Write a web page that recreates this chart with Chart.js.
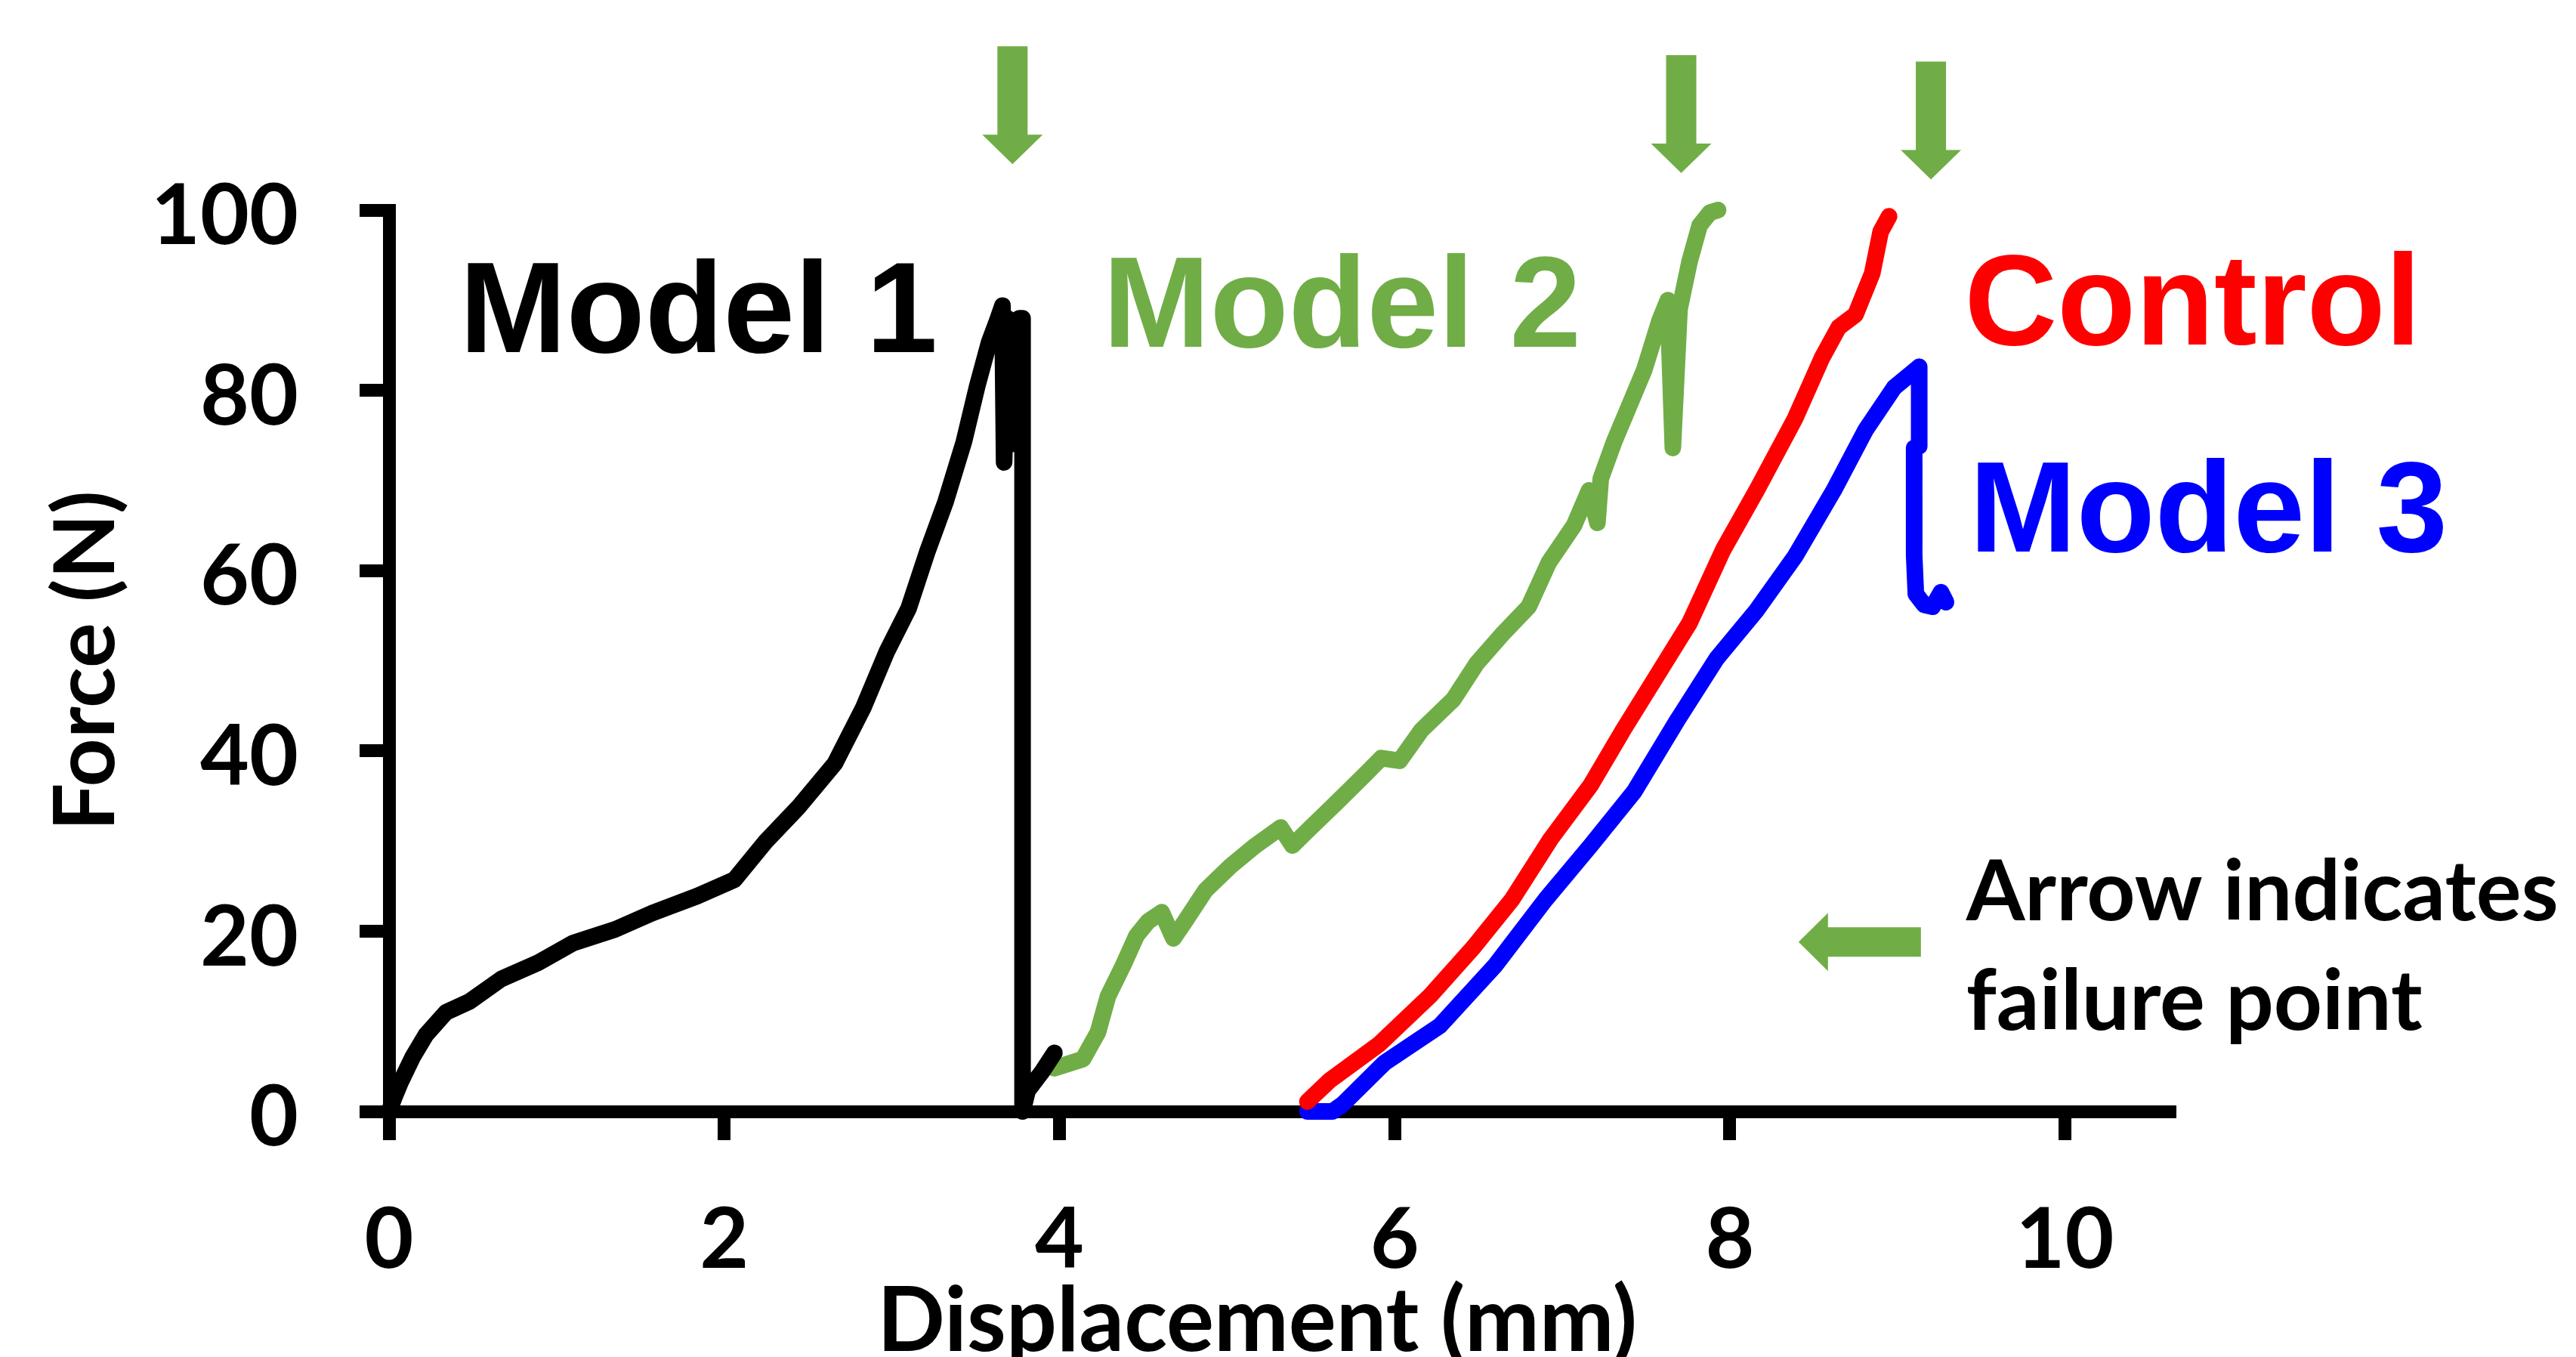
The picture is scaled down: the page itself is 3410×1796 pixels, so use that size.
<!DOCTYPE html>
<html>
<head>
<meta charset="utf-8">
<script src="https://cdn.jsdelivr.net/npm/chart.js@4.4.0/dist/chart.umd.min.js"></script>
<style>
  html, body { margin: 0; padding: 0; background: #fff; }
  #wrap { width: 3410px; height: 1796px; }
</style>
</head>
<body>
<div id="wrap"><canvas id="forceChart" width="3410" height="1796"></canvas></div>
<script>
// tick labels
const xTicks = [0, 2, 4, 6, 8, 10]
const yTicks = [0, 20, 40, 60, 80, 100]

// Model 1 (black)
const model1X = [0, 0.03, 0.07, 0.14, 0.22, 0.34, 0.48, 0.67, 0.89, 1.10, 1.35, 1.57, 1.84, 2.06, 2.25, 2.44, 2.66, 2.83, 2.97, 3.10, 3.21, 3.32, 3.43, 3.51, 3.58, 3.63, 3.66, 3.67, 3.69, 3.71, 3.73, 3.76, 3.78, 3.78, 3.81, 3.90, 3.97]
const model1Y = [0, 1.5, 3.3, 6, 8.5, 11, 12.2, 14.7, 16.5, 18.7, 20.2, 22, 23.9, 25.7, 30, 33.7, 38.6, 44.8, 51, 55.8, 62, 67.6, 74.3, 80.5, 85.3, 87.8, 89.4, 72, 88, 74, 87.5, 88, 88, 0, 2.3, 4.5, 6.5]

// Model 2 (green)
const model2X = [3.97, 4.14, 4.23, 4.29, 4.38, 4.46, 4.53, 4.61, 4.68, 4.75, 4.87, 5.02, 5.17, 5.32, 5.39, 5.50, 5.65, 5.83, 5.92, 6.03, 6.16, 6.35, 6.49, 6.65, 6.80, 6.92, 7.07, 7.16, 7.21, 7.23, 7.31, 7.40, 7.49, 7.58, 7.63, 7.66, 7.70, 7.76, 7.82, 7.88, 7.93]
const model2Y = [4.8, 5.8, 8.8, 12.8, 16.2, 19.5, 21.1, 22.1, 19.2, 21.1, 24.5, 27.2, 29.5, 31.5, 29.5, 31.5, 34.2, 37.5, 39.2, 38.9, 42.3, 45.7, 49.7, 53.1, 56.0, 60.9, 65, 68.9, 65.3, 70.2, 74.3, 78.3, 82.3, 87.7, 90, 73.6, 89, 94.3, 98.3, 99.7, 100]

// Control (red)
const controlX = [5.48, 5.61, 5.91, 6.21, 6.47, 6.70, 6.93, 7.17, 7.36, 7.56, 7.76, 7.96, 8.16, 8.39, 8.55, 8.65, 8.75, 8.85, 8.90, 8.95]
const controlY = [1.1, 3.4, 7.5, 12.8, 18.2, 23.5, 30.2, 36.2, 42.2, 48.2, 54.2, 62.3, 68.9, 76.9, 83.6, 87.0, 88.4, 93.0, 97.6, 99.3]

// Model 3 (blue)
const model3X = [5.48, 5.63, 5.69, 5.94, 6.27, 6.60, 6.90, 7.17, 7.43, 7.69, 7.92, 8.16, 8.39, 8.62, 8.81, 8.98, 9.11, 9.13, 9.13, 9.10, 9.10, 9.11, 9.16, 9.21, 9.26, 9.29]
const model3Y = [0, 0, 0.8, 5.4, 9.5, 16.2, 23.5, 29.5, 35.5, 43.5, 50.2, 55.6, 61.6, 68.9, 75.6, 80.3, 82.3, 82.6, 73.8, 73.6, 61.7, 57.4, 56.2, 56, 57.6, 56.5]

// failure arrows (displacement, arrow tip force)
const failureX = [3.72, 7.71, 9.20]
const failureTipY = [105.1, 104.1, 103.4]

const green = '#70AD47'

const annotations = [
  { text: 'Model 1', x: 0.42, y: 84.2, color: 'black' },
  { text: 'Model 2', x: 4.26, y: 84.8, color: green },
  { text: 'Control', x: 9.40, y: 85.1, color: 'red' },
  { text: 'Model 3', x: 9.43, y: 62.1, color: 'blue' }
]
const noteLines = ['Arrow indicates', 'failure point']
const xTitle = 'Displacement (mm)'

function toPoints(xs, ys) {
  return xs.map((x, i) => ({ x: x, y: ys[i] }))
}

const extrasPlugin = {
  id: 'extras',
  afterDraw(chart) {
    const ctx = chart.ctx
    const sx = chart.scales.x
    const sy = chart.scales.y
    ctx.save()
    ctx.fillStyle = green
    // down arrows over the failure points
    failureX.forEach((fx, i) => {
      const px = sx.getPixelForValue(fx)
      const tip = sy.getPixelForValue(failureTipY[i])
      ctx.beginPath()
      ctx.moveTo(px - 20, tip - 156)
      ctx.lineTo(px + 20, tip - 156)
      ctx.lineTo(px + 20, tip - 39)
      ctx.lineTo(px + 40, tip - 39)
      ctx.lineTo(px, tip)
      ctx.lineTo(px - 40, tip - 39)
      ctx.lineTo(px - 20, tip - 39)
      ctx.closePath()
      ctx.fill()
    })
    // key arrow
    const kx = sx.getPixelForValue(8.41)
    const ky = sy.getPixelForValue(18.8)
    ctx.beginPath()
    ctx.moveTo(kx, ky)
    ctx.lineTo(kx + 39, ky - 38.5)
    ctx.lineTo(kx + 39, ky - 19.5)
    ctx.lineTo(kx + 162, ky - 19.5)
    ctx.lineTo(kx + 162, ky + 19.5)
    ctx.lineTo(kx + 39, ky + 19.5)
    ctx.lineTo(kx + 39, ky + 38.5)
    ctx.closePath()
    ctx.fill()

    ctx.textAlign = 'left'
    ctx.textBaseline = 'alphabetic'
    ctx.font = 'bold 170px "Liberation Sans"'
    annotations.forEach(a => {
      ctx.fillStyle = a.color
      ctx.fillText(a.text, sx.getPixelForValue(a.x), sy.getPixelForValue(a.y))
    })
    ctx.fillStyle = 'black'
    ctx.font = 'bold 112px Lato'
    ctx.fillText(noteLines[0], sx.getPixelForValue(9.41), sy.getPixelForValue(21.2))
    ctx.fillText(noteLines[1], sx.getPixelForValue(9.41), sy.getPixelForValue(9.05))

    // x axis title, cut by the bottom edge like the original
    ctx.textAlign = 'center'
    ctx.font = 'bold 118px Lato'
    ctx.fillText(xTitle, sx.getPixelForValue(5.18), 1788)
    ctx.restore()
  }
}

function lineSet(label, xs, ys, color) {
  return {
    label: label,
    data: toPoints(xs, ys),
    borderColor: color,
    backgroundColor: color,
    borderWidth: 22,
    pointRadius: 0,
    tension: 0,
    borderJoinStyle: 'round',
    borderCapStyle: 'round',
    clip: false
  }
}

const tickFont = { family: 'Lato', weight: 'bold', size: 112 }

const config = {
  type: 'line',
  data: {
    datasets: [
      lineSet('Control', controlX, controlY, 'red'),
      lineSet('Model 3', model3X, model3Y, 'blue'),
      lineSet('Model 1', model1X, model1Y, 'black'),
      lineSet('Model 2', model2X, model2Y, green)
    ]
  },
  options: {
    responsive: false,
    animation: false,
    devicePixelRatio: 1,
    layout: { padding: { top: 278, right: 530, left: 0, bottom: 0 } },
    plugins: {
      legend: { display: false },
      tooltip: { enabled: false }
    },
    scales: {
      x: {
        type: 'linear',
        min: 0,
        max: 10.66,
        afterBuildTicks: s => { s.ticks = xTicks.map(v => ({ value: v })) },
        afterFit: s => { s.height = 325 },
        border: { color: 'black', width: 17 },
        grid: { drawOnChartArea: false, drawTicks: true, tickLength: 38, tickWidth: 17, tickColor: 'black' },
        ticks: { color: 'black', font: tickFont, padding: 66, maxRotation: 0 },
        title: { display: false }
      },
      y: {
        min: 0,
        max: 100,
        afterBuildTicks: s => { s.ticks = yTicks.map(v => ({ value: v })) },
        afterFit: s => { s.width = 515 },
        border: { color: 'black', width: 17 },
        grid: { drawOnChartArea: false, drawTicks: true, tickLength: 39, tickWidth: 17, tickColor: 'black' },
        ticks: { color: 'black', font: tickFont, padding: 81, labelOffset: 9 },
        title: {
          display: true, text: 'Force (N)', color: 'black',
          font: { family: 'Lato', weight: 'bold', size: 112, lineHeight: 0.8 },
          padding: { top: 70, bottom: 0 }
        }
      }
    }
  },
  plugins: [extrasPlugin]
}

const chart = new Chart(document.getElementById('forceChart').getContext('2d'), config)
</script>
</body>
</html>
